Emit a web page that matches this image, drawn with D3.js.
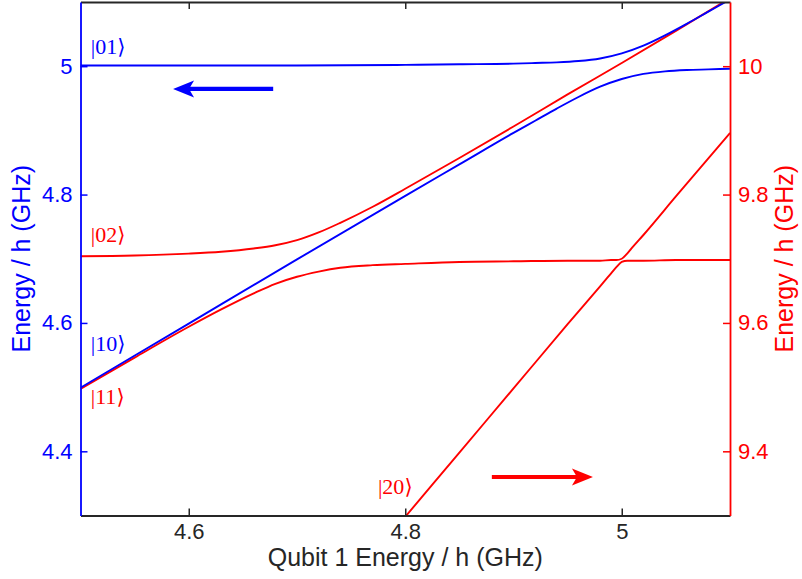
<!DOCTYPE html>
<html>
<head>
<meta charset="utf-8">
<script src="https://cdn.jsdelivr.net/npm/d3@7/dist/d3.min.js"></script>
<style>
  html, body { margin: 0; padding: 0; background: #fff; }
  svg { display: block; }
</style>
</head>
<body>
<svg id="chart" width="802" height="579"></svg>
<script>
// ---- data ----
const xTicks = [4.6, 4.8, 5];
const xTickLabels = ["4.6", "4.8", "5"];
const leftTicks = [4.4, 4.6, 4.8, 5];
const leftTickLabels = ["4.4", "4.6", "4.8", "5"];
const rightTicks = [9.4, 9.6, 9.8, 10];
const rightTickLabels = ["9.4", "9.6", "9.8", "10"];

// single-excitation levels (left axis, GHz)
const blueUpper = [[4.5,5.001],[4.6,5.001],[4.7,5.001],[4.8,5.002],[4.85,5.003],[4.9,5.004],[4.92,5.005],[4.94,5.006],[4.96,5.008],[4.98,5.012],[5.0,5.020],[5.02,5.032],[5.04,5.048],[5.06,5.066],[5.08,5.085],[5.1,5.104]];
const blueLower = [[4.5,4.499],[4.6,4.599],[4.7,4.699],[4.8,4.798],[4.85,4.847],[4.9,4.896],[4.92,4.915],[4.94,4.934],[4.96,4.952],[4.98,4.968],[5.0,4.980],[5.02,4.988],[5.04,4.992],[5.06,4.994],[5.08,4.995],[5.1,4.996]];

// two-excitation levels (right axis, GHz)
const redUpper = [[4.5,9.704],[4.55,9.705],[4.6,9.708],[4.63,9.711],[4.66,9.716],[4.68,9.721],[4.7,9.729],[4.72,9.741],[4.74,9.756],[4.77,9.781],[4.8,9.809],[4.85,9.857],[4.9,9.906],[4.95,9.956],[5.0,10.005],[5.05,10.055],[5.1,10.106]];
const redMiddle = [[4.5,9.497],[4.55,9.546],[4.6,9.594],[4.63,9.621],[4.66,9.646],[4.68,9.661],[4.7,9.672],[4.72,9.680],[4.74,9.686],[4.77,9.690],[4.8,9.692],[4.85,9.695],[4.9,9.696],[4.95,9.697],[4.98,9.697],[4.99,9.698],[4.995,9.698],[5.0,9.700],[5.005,9.708],[5.01,9.718],[5.02,9.737],[5.05,9.797],[5.1,9.896]];
const redLower = [[4.8,9.298],[4.85,9.398],[4.9,9.498],[4.95,9.598],[4.98,9.657],[4.99,9.677],[4.995,9.687],[5.0,9.695],[5.005,9.697],[5.01,9.697],[5.02,9.697],[5.05,9.698],[5.1,9.698]];

// ---- layout ----
const BLUE = "#0000ff", RED = "#ff0000", DARK = "#262626";
const L = 80.5, R = 730, T = 2, B = 515.5;
const svg = d3.select("#chart");

const x = d3.scaleLinear().domain([4.5, 5.1]).range([L, R]);
const yL = d3.scaleLinear().domain([4.3, 5.1]).range([B, T]);
const yR = d3.scaleLinear().domain([9.3, 10.1]).range([B, T]);

svg.append("defs").append("clipPath").attr("id", "plotclip")
  .append("rect").attr("x", L).attr("y", T).attr("width", R - L).attr("height", B - T);

const plot = svg.append("g").attr("clip-path", "url(#plotclip)");

const lineR = d3.line().x(d => x(d[0])).y(d => yR(d[1])).curve(d3.curveMonotoneX);
const lineL = d3.line().x(d => x(d[0])).y(d => yL(d[1])).curve(d3.curveMonotoneX);

[redUpper, redMiddle, redLower].forEach(s => {
  plot.append("path").attr("d", lineR(s)).attr("fill", "none")
    .attr("stroke", RED).attr("stroke-width", 1.9);
});
[blueUpper, blueLower].forEach(s => {
  plot.append("path").attr("d", lineL(s)).attr("fill", "none")
    .attr("stroke", BLUE).attr("stroke-width", 1.9);
});

// ---- axes ----
function styleAxis(g, color, fs) {
  g.attr("font-family", "'Liberation Sans', Arial, Helvetica, sans-serif")
   .attr("font-size", fs);
  g.selectAll("path.domain").attr("stroke", color).attr("stroke-width", 1.8);
  g.selectAll(".tick line").attr("stroke", color).attr("stroke-width", 1.5);
  g.selectAll(".tick text").attr("fill", color);
}

const gBottom = svg.append("g").attr("transform", `translate(0,${B})`)
  .call(d3.axisBottom(x).tickValues(xTicks).tickFormat((d, i) => xTickLabels[i])
    .tickSizeInner(-7).tickSizeOuter(0).tickPadding(8));
styleAxis(gBottom, DARK, 22);

const gTop = svg.append("g").attr("transform", `translate(0,${T})`)
  .call(d3.axisTop(x).tickValues(xTicks).tickFormat("")
    .tickSizeInner(-7).tickSizeOuter(0));
styleAxis(gTop, DARK, 22);

const gLeft = svg.append("g").attr("transform", `translate(${L},0)`)
  .call(d3.axisLeft(yL).tickValues(leftTicks).tickFormat((d, i) => leftTickLabels[i])
    .tickSizeInner(-7).tickSizeOuter(0).tickPadding(8));
styleAxis(gLeft, BLUE, 22);

const gRight = svg.append("g").attr("transform", `translate(${R},0)`)
  .call(d3.axisRight(yR).tickValues(rightTicks).tickFormat((d, i) => rightTickLabels[i])
    .tickSizeInner(-7).tickSizeOuter(0).tickPadding(8));
styleAxis(gRight, RED, 22);

// ---- axis titles ----
const sans = "'Liberation Sans', Arial, Helvetica, sans-serif";
svg.append("text").attr("x", (L + R) / 2).attr("y", 566)
  .attr("text-anchor", "middle").attr("font-family", sans).attr("font-size", 25)
  .attr("fill", DARK).text("Qubit 1 Energy / h (GHz)");
svg.append("text").attr("transform", `translate(30,${(T + B) / 2}) rotate(-90)`)
  .attr("text-anchor", "middle").attr("font-family", sans).attr("font-size", 25)
  .attr("fill", BLUE).text("Energy / h (GHz)");
svg.append("text").attr("transform", `translate(793,${(T + B) / 2}) rotate(-90)`)
  .attr("text-anchor", "middle").attr("font-family", sans).attr("font-size", 25)
  .attr("fill", RED).text("Energy / h (GHz)");

// ---- state labels ----
const serif = "'Liberation Serif', 'DejaVu Serif', 'Times New Roman', serif";
function stateLabel(txt, px, py, color) {
  const t = svg.append("text").attr("x", px).attr("y", py)
    .attr("font-family", serif).attr("font-size", 22).attr("fill", color);
  t.append("tspan").text(txt);
  t.append("tspan").attr("font-family", "'DejaVu Serif', serif").attr("font-size", 21).text("\u27E9");
}
stateLabel("|01", x(4.5095), yL(5.019), BLUE);
stateLabel("|02", x(4.5095), yR(9.726), RED);
stateLabel("|10", x(4.5095), yL(4.556), BLUE);
stateLabel("|11", x(4.5095), yR(9.474), RED);
stateLabel("|20", x(4.7748), yR(9.3335), RED);

// ---- arrows ----
function arrow(x0, x1, yy, color) {
  const dir = x1 > x0 ? 1 : -1;
  const notch = x1 - dir * 16;
  svg.append("line").attr("x1", x0).attr("x2", notch + dir * 1).attr("y1", yy).attr("y2", yy)
    .attr("stroke", color).attr("stroke-width", 4.2);
  svg.append("path")
    .attr("d", `M${x1},${yy} L${x1 - dir * 21},${yy - 8.5} L${notch},${yy} L${x1 - dir * 21},${yy + 8.5} Z`)
    .attr("fill", color);
}
arrow(x(4.678), x(4.5855), yL(4.9645), BLUE);
arrow(x(4.880), x(4.9734), yR(9.360), RED);
</script>
</body>
</html>
